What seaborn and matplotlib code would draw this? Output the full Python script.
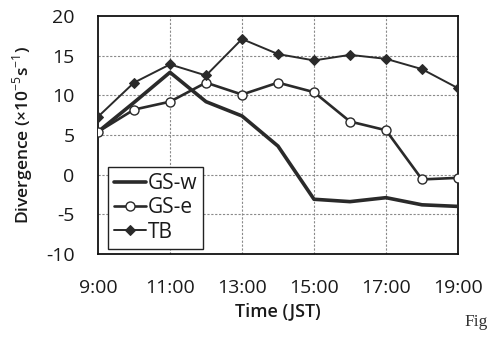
import matplotlib
matplotlib.use("Agg")
import matplotlib.pyplot as plt
import seaborn as sns
import pandas as pd

hours = [9, 10, 11, 12, 13, 14, 15, 16, 17, 18, 19]
gs_w = [5.4, 9.1, 12.9, 9.2, 7.4, 3.6, -3.1, -3.4, -2.9, -3.8, -4.0]
gs_e = [5.4, 8.2, 9.2, 11.6, 10.1, 11.6, 10.4, 6.7, 5.6, -0.6, -0.4]
tb = [7.3, 11.6, 13.9, 12.5, 17.1, 15.2, 14.4, 15.1, 14.6, 13.3, 10.9]
xticks = [9, 11, 13, 15, 17, 19]
xtick_labels = ["9:00", "11:00", "13:00", "15:00", "17:00", "19:00"]
yticks = [-10, -5, 0, 5, 10, 15, 20]

sns.set_theme(style="white")
plt.rcParams['font.family'] = ['Open Sans', 'DejaVu Sans']
plt.rcParams['mathtext.fontset'] = 'custom'
plt.rcParams['mathtext.rm'] = 'Open Sans'
plt.rcParams['axes.unicode_minus'] = False

fig = plt.figure(figsize=(4.88, 3.38), dpi=100)
ax = fig.add_axes([98/488, 1-254/338, 360/488, 238/338])

df_w = pd.DataFrame({"t": hours, "v": gs_w})
df_e = pd.DataFrame({"t": hours, "v": gs_e})
df_b = pd.DataFrame({"t": hours, "v": tb})

dark = "#2a2a2a"
sns.lineplot(data=df_w, x="t", y="v", ax=ax, color=dark, lw=2.6, label="GS-w", zorder=3)
sns.lineplot(data=df_e, x="t", y="v", ax=ax, color=dark, lw=1.9, marker="o", markersize=6.5,
             markerfacecolor="white", markeredgecolor=dark, markeredgewidth=1.0, label="GS-e", zorder=4)
sns.lineplot(data=df_b, x="t", y="v", ax=ax, color=dark, lw=1.4, marker="D", markersize=5,
             markerfacecolor=dark, markeredgecolor=dark, label="TB", zorder=5)

ax.set_xlim(9, 19)
ax.set_ylim(-10, 20)
ax.set_xticks(xticks)
ax.set_xticklabels(xtick_labels)
ax.set_yticks(yticks)
ax.tick_params(axis='both', length=0, labelsize=14, colors="#1a1a1a")
ax.tick_params(axis='y', pad=17)
ax.tick_params(axis='x', pad=18)

for y in yticks[1:-1]:
    ax.axhline(y, color="#8a8a8a", lw=0.8, ls=(0, (2, 1.5)), zorder=1)
for x in xticks[1:-1]:
    ax.axvline(x, color="#8a8a8a", lw=0.8, ls=(0, (2, 1.5)), zorder=1)

for s in ax.spines.values():
    s.set_color("#111111")
    s.set_linewidth(1.3)
    s.set_visible(True)

ax.set_xlabel("Time (JST)", fontsize=13, fontweight="semibold", color="#1a1a1a", labelpad=4)
ax.set_ylabel(r"Divergence (×10$^{-5}$s$^{-1}$)", fontsize=12.5, fontweight="semibold",
              color="#1a1a1a", labelpad=8)

leg = ax.legend(loc="lower left", bbox_to_anchor=(0.028, 0.022), fontsize=15, frameon=True,
                fancybox=False, shadow=False, handlelength=1.5, handletextpad=0.1,
                labelspacing=0.15, borderpad=0.3, borderaxespad=0.0)
leg.get_frame().set_edgecolor("#222222")
leg.get_frame().set_linewidth(1.0)
leg.get_frame().set_alpha(1)
for t in leg.get_texts():
    t.set_color("#1a1a1a")

fig.text(464/488, 1-322/338, "Fig", fontsize=12.5, family="Liberation Serif", va="center",
         ha="left", color="#333333")

fig.savefig("out.png", dpi=100)
